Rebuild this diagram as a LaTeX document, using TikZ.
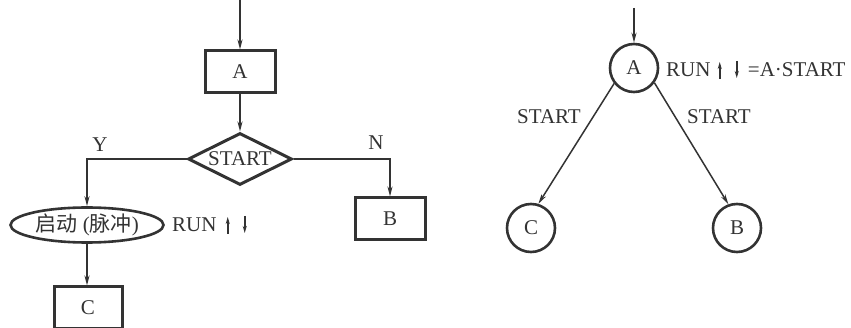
\documentclass[tikz,border=0pt]{standalone}
\usepackage{fontspec}
\setmainfont{Liberation Serif}
\newfontfamily\cjk{Noto Sans CJK SC}
\usetikzlibrary{shapes.geometric,arrows.meta}
\definecolor{ink}{HTML}{333333}
\begin{document}
\begin{tikzpicture}[x=1pt,y=-1pt,
  every node/.style={text=ink,font=\fontsize{21}{23}\selectfont,inner sep=0pt},
  blk/.style={draw=ink,line width=3pt,minimum width=70pt,minimum height=42pt},
  cond/.style={draw=ink,line width=3pt,diamond,aspect=2,minimum width=104pt,minimum height=52pt},
  pulse/.style={draw=ink,line width=2.6pt,ellipse,minimum width=153pt,minimum height=35pt},
  state/.style={draw=ink,line width=2.6pt,circle,minimum size=48pt},
  flow/.style={draw=ink,line width=1.5pt,-{Stealth[length=10pt,width=5pt]}},
  edgemark/.style={draw=ink,line width=1.6pt,-{Stealth[length=7pt,width=4pt]}}]
\useasboundingbox[fill=white] (0,0) rectangle (851,328);

% ---- flow chart ----
\coordinate (inL) at (240,0);
\node[blk] (A) at (240,72) {A};
\node[cond] (S) at (240,159) {START};
\node[pulse] (P) at (87,225) {{\cjk 启动}\;({\cjk 脉冲})};
\node[blk] (B) at (390,219) {B};
\node[blk,minimum width=68pt] (C) at (88,308) {C};
\node (Y) at (100,145) {Y};
\node (N) at (376,143) {N};
\node[anchor=west] (run1) at (172,225) {RUN};

\draw[flow] (inL) -- (A.north);
\draw[flow] (A.south) -- (S.north);
\draw[flow] (S.west) -| (P.north);
\draw[flow] (S.east) -| (B.north);
\draw[flow] (P.south) -- (P.south |- C.north);

\coordinate (u1) at ([xshift=11pt]run1.east);
\coordinate (d1) at ([xshift=28pt]run1.east);
\draw[edgemark] ([yshift=-9pt]u1) -- ([yshift=8pt]u1);
\draw[edgemark] ([yshift=9pt]d1) -- ([yshift=-8pt]d1);

% ---- state diagram ----
\coordinate (inR) at (634,8);
\node[state] (A2) at (634,68) {A};
\node[state] (C2) at (531,228) {C};
\node[state] (B2) at (737,228) {B};
\draw[flow] (inR) -- (A2.north);
\draw[flow] (A2.218) -- (C2.73);
\draw[flow] (A2.-36) -- (B2.110);
\node (s1) at (549,117) {START};
\node (s2) at (719,117) {START};

\node[anchor=west] (run2) at (666,70) {RUN};
\coordinate (u2) at ([xshift=9pt]run2.east);
\coordinate (d2) at ([xshift=26pt]run2.east);
\draw[edgemark] ([yshift=-9pt]u2) -- ([yshift=8pt]u2);
\draw[edgemark] ([yshift=9pt]d2) -- ([yshift=-8pt]d2);
\node[anchor=west] (eq) at ([xshift=37pt]run2.east) {=A·START};
\end{tikzpicture}
\end{document}
